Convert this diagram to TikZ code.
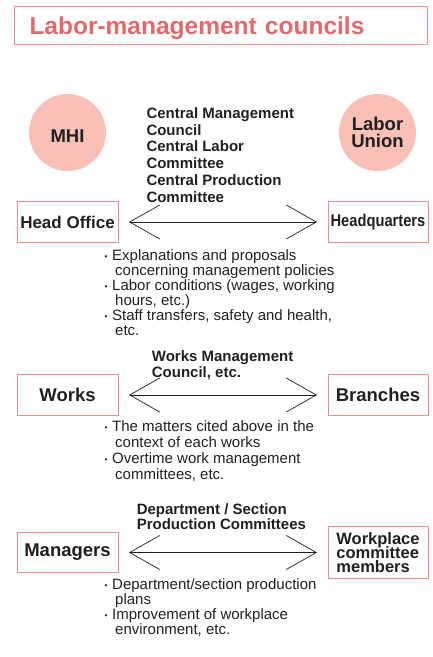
\documentclass[tikz,border=0pt]{standalone}
\usepackage{fontspec}
\setmainfont{Liberation Sans}
\newfontfamily\narrowsans[FakeStretch=0.865]{Liberation Sans}
\usetikzlibrary{arrows.meta}

\definecolor{inkgray}{HTML}{231F20}
\definecolor{titlered}{HTML}{E5686B}
\definecolor{boxred}{HTML}{EB8E8E}
\definecolor{circlepink}{HTML}{F9C0B8}

\newcommand{\fsz}[2]{\fontsize{#1}{#2}\selectfont\lineskiplimit=-20pt\lineskip=0pt}
\newcommand{\dotitem}{\makebox[8.5pt][l]{\hspace{1pt}\raisebox{1pt}{\scalebox{0.55}{•}}}}
\newcommand{\contline}{\hspace*{11.5pt}}

\begin{document}
\begin{tikzpicture}[x=1pt,y=-1pt,line join=round,line cap=round]
\tikzstyle{title box} = [draw=boxred,line width=1pt,text=titlered,font=\fsz{24.5}{28}\bfseries,anchor=north west,minimum width=413pt,minimum height=38pt,inner xsep=15pt,text width=383pt,align=left,text height=18pt,text depth=0pt]
\tikzstyle{party} = [circle,fill=circlepink,minimum size=77pt,inner sep=0pt,text=inkgray,font=\fsz{18.5}{16.5}\bfseries,align=center]
\tikzstyle{unit box} = [draw=boxred,line width=1pt,minimum width=101pt,minimum height=41pt,inner sep=0pt,text=inkgray,font=\fsz{18.5}{20}\bfseries]
\tikzstyle{council} = [anchor=north west,inner sep=0pt,align=left,text=inkgray]
\tikzstyle{topics} = [anchor=north west,inner sep=0pt,align=left,text=inkgray]
\tikzstyle{link} = [draw=inkgray,line width=0.7pt,{Straight Barb[length=30pt,width=34pt]}-{Straight Barb[length=30pt,width=34pt]},shorten <=10.5pt,shorten >=10.5pt]

\useasboundingbox (0,0) rectangle (433,657);

\node[title box] (title) at (14,6) {Labor-management councils};

\node[party,text height=20.5pt,text depth=0pt] (mhi) at (67.5,132.5) {MHI};
\node[party] (union) at (377.5,132.5) {Labor\\Union};

% central level
\node[council,font=\fsz{15}{16.8}\bfseries] (central) at (146.3,107.3)
  {Central Management\\Council\\Central Labor\\Committee\\Central Production\\Committee};
\node[unit box,font=\fsz{17}{20}\bfseries] (headoffice) at (67.5,222) {Head Office};
\node[unit box,minimum width=100pt,font=\narrowsans\fsz{17}{20}\bfseries] (headquarters) at (378,222) {Headquarters};
\draw[link] (headoffice) -- (headquarters);
\node[topics,font=\fsz{15}{15}] (centraltopics) at (103.5,249)
  {\dotitem Explanations and proposals\\
   \contline concerning management policies\\
   \dotitem Labor conditions (wages, working\\
   \contline hours, etc.)\\
   \dotitem Staff transfers, safety and health,\\
   \contline etc.};

% works level
\node[council,font=\fsz{15}{16}\bfseries] (workscouncil) at (151.7,350)
  {Works Management\\Council, etc.};
\node[unit box] (works) at (67.5,395) {Works};
\node[unit box,minimum width=100pt] (branches) at (378,395) {Branches};
\draw[link] (works) -- (branches);
\node[topics,font=\fsz{15}{16}] (workstopics) at (103.5,420)
  {\dotitem The matters cited above in the\\
   \contline context of each works\\
   \dotitem Overtime work management\\
   \contline committees, etc.};

% workplace level
\node[council,font=\fsz{15}{15}\bfseries] (deptcouncil) at (136.6,503)
  {Department / Section\\Production Committees};
\node[unit box,minimum height=40pt] (managers) at (67.5,552.5) {Managers};
\node[unit box,minimum width=100pt,minimum height=52pt,align=left,font=\fsz{16.5}{13.6}\bfseries] (members) at (378,552.5)
  {Workplace\\committee\\members};
\draw[link] (managers) -- (members);
\node[topics,font=\fsz{15}{15}] (depttopics) at (103.5,578.3)
  {\dotitem Department/section production\\
   \contline plans\\
   \dotitem Improvement of workplace\\
   \contline environment, etc.};

\end{tikzpicture}
\end{document}
